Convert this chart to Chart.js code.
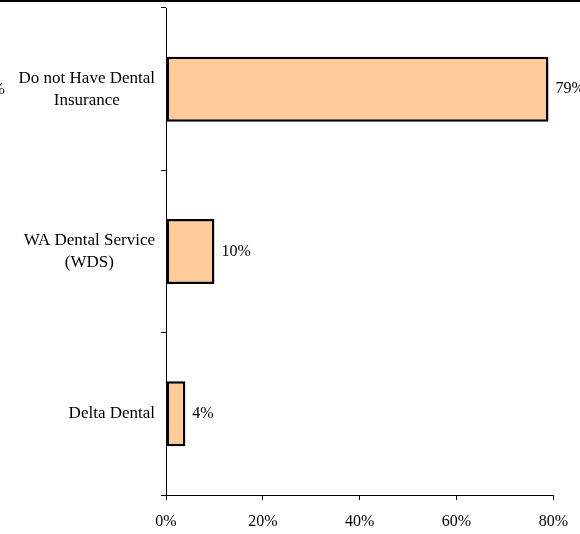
<!DOCTYPE html>
<html>
<head>
<meta charset="utf-8">
<script src="https://cdn.jsdelivr.net/npm/chart.js@4"></script>
<style>
  body { margin: 0; background: #fff; }
</style>
</head>
<body>
<canvas id="dentalChart" width="580" height="534"></canvas>
<script>
// categories, top to bottom
const categories = [
  ["Do not Have Dental", "Insurance"],
  ["WA Dental Service", "(WDS)"],
  ["Delta Dental"],
];
const percentValues = [79, 10, 4];
const xTickValues = [0, 20, 40, 60, 80];

const serif = "'Liberation Serif', 'Times New Roman', serif";

// category labels: multi-line labels centered as a block, block right-aligned
const categoryLabels = {
  id: "categoryLabels",
  afterDraw(chart) {
    const ctx = chart.ctx;
    const yScale = chart.scales.y;
    ctx.save();
    ctx.font = "17px " + serif;
    ctx.fillStyle = "#000";
    ctx.textBaseline = "middle";
    ctx.textAlign = "center";
    const rightEdge = yScale.right - 11;
    const lineHeight = 22;
    categories.forEach(function (lines, i) {
      const y = yScale.getPixelForValue(i);
      const widest = Math.max.apply(null, lines.map(function (l) { return ctx.measureText(l).width; }));
      const cx = rightEdge - widest / 2;
      const startY = y - ((lines.length - 1) * lineHeight) / 2;
      lines.forEach(function (line, j) {
        ctx.fillText(line, cx, startY + j * lineHeight);
      });
    });
    // cropped fragments at the picture edges
    ctx.fillRect(0, 0, chart.width, 2);
    ctx.textAlign = "right";
    ctx.fillText("%", 5, yScale.getPixelForValue(0));
    ctx.restore();
  },
};

// value labels at the end of each bar
const valueLabels = {
  id: "valueLabels",
  afterDatasetsDraw(chart) {
    const ctx = chart.ctx;
    const meta = chart.getDatasetMeta(0);
    ctx.save();
    ctx.font = "16px " + serif;
    ctx.fillStyle = "#000";
    ctx.textAlign = "left";
    ctx.textBaseline = "middle";
    meta.data.forEach(function (bar, i) {
      ctx.fillText(percentValues[i] + "%", bar.x + 7, bar.y);
    });
    ctx.restore();
  },
};

const ctxDental = document.getElementById("dentalChart").getContext("2d");
const dentalChart = new Chart(ctxDental, {
  type: "bar",
  data: {
    labels: categories,
    datasets: [
      {
        data: percentValues,
        backgroundColor: "#FFCC99",
        borderColor: "#000",
        borderWidth: 2.5,
        borderSkipped: false,
        categoryPercentage: 1,
        barPercentage: 0.4,
      },
    ],
  },
  options: {
    indexAxis: "y",
    responsive: false,
    animation: false,
    layout: {
      padding: { top: 8, right: 25, left: 0, bottom: 0 },
    },
    scales: {
      x: {
        min: 0,
        max: 80,
        afterBuildTicks(scale) {
          scale.ticks = xTickValues.map(function (v) { return { value: v }; });
        },
        afterFit(scale) {
          scale.height = 39;
        },
        ticks: {
          callback: function (v) { return v + "%"; },
          color: "#000",
          font: { family: serif, size: 16 },
          padding: 12,
          maxRotation: 0,
        },
        grid: {
          drawOnChartArea: false,
          tickLength: 5,
          color: "#000",
        },
        border: { color: "#000", width: 1 },
      },
      y: {
        afterFit(scale) {
          scale.width = 166;
        },
        ticks: { display: false },
        grid: {
          drawOnChartArea: false,
          tickLength: 5,
          color: "#000",
          offset: true,
        },
        border: { color: "#000", width: 1 },
      },
    },
    plugins: {
      legend: { display: false },
      tooltip: { enabled: false },
    },
  },
  plugins: [valueLabels, categoryLabels],
});
</script>
</body>
</html>
